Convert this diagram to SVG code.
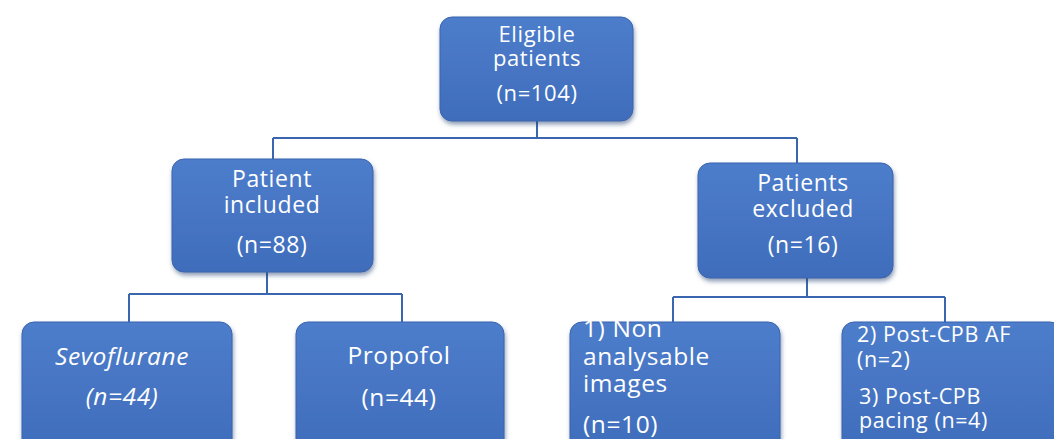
<svg xmlns="http://www.w3.org/2000/svg" width="1054" height="439" viewBox="0 0 1054 439">
<defs>
<linearGradient id="fillg" x1="0" y1="0" x2="0" y2="1">
<stop offset="0" stop-color="#4d7dcb"/>
<stop offset="1" stop-color="#3f6dbb"/>
</linearGradient>
<filter id="sh" x="-10%" y="-10%" width="120%" height="130%">
<feDropShadow dx="1" dy="3" stdDeviation="2" flood-color="#1f3a6e" flood-opacity="0.5"/>
</filter>
<style>
.box{fill:url(#fillg);filter:url(#sh);stroke:#3a64ad;stroke-width:1}
.t{font-family:"Open Sans","Liberation Sans",sans-serif;font-size:22px;fill:#ffffff;letter-spacing:0.6px}
.c{text-anchor:middle}
.m{font-size:23px}
.b{font-size:24.5px}
.s{font-size:21.5px}
.i{font-style:italic}
.ln{fill:none;stroke:#3a66b0;stroke-width:2}
</style>
</defs>
<rect width="1054" height="439" fill="#ffffff"/>
<g id="connectors">
<path class="ln" d="M537 121 V138 M273 138 H797 M273 138 V160 M797 138 V163"/>
<path class="ln" d="M267 272 V294 M129 294 H402 M129 294 V322 M402 294 V322"/>
<path class="ln" d="M807 278 V297 M673 297 H945 M673 297 V322 M945 297 V322"/>
</g>
<g id="eligible">
<rect class="box" x="440" y="17" width="193" height="104" rx="12"/>
<text class="t c" x="537" y="42">Eligible</text>
<text class="t c" x="537" y="66">patients</text>
<text class="t c" x="537" y="101">(n=104)</text>
</g>
<g id="included">
<rect class="box" x="172" y="159" width="201" height="113" rx="12"/>
<text class="t m c" x="272" y="187">Patient</text>
<text class="t m c" x="272" y="213">included</text>
<text class="t m c" x="272" y="253">(n=88)</text>
</g>
<g id="excluded">
<rect class="box" x="698" y="163" width="195" height="115" rx="12"/>
<text class="t m c" x="803" y="191">Patients</text>
<text class="t m c" x="803" y="217">excluded</text>
<text class="t m c" x="803" y="253">(n=16)</text>
</g>
<g id="sevoflurane">
<rect class="box" x="22" y="322" width="210" height="130" rx="12"/>
<text class="t b c i" x="122" y="365">Sevoflurane</text>
<text class="t b c i" x="122" y="405">(n=44)</text>
</g>
<g id="propofol">
<rect class="box" x="296" y="322" width="208" height="130" rx="12"/>
<text class="t b c" x="399" y="364">Propofol</text>
<text class="t b c" x="399" y="406">(n=44)</text>
</g>
<g id="nonanalysable">
<rect class="box" x="570" y="322" width="210" height="130" rx="12"/>
<text class="t b" x="583" y="337">1) Non</text>
<text class="t b" x="583" y="365">analysable</text>
<text class="t b" x="583" y="392">images</text>
<text class="t b" x="583" y="433">(n=10)</text>
</g>
<g id="postcpb">
<rect class="box" x="842" y="322" width="220" height="130" rx="12"/>
<text class="t s" x="857" y="342">2) Post-CPB AF</text>
<text class="t s" x="857" y="367">(n=2)</text>
<text class="t s" x="859" y="404">3) Post-CPB</text>
<text class="t s" x="859" y="428">pacing (n=4)</text>
</g>
</svg>
